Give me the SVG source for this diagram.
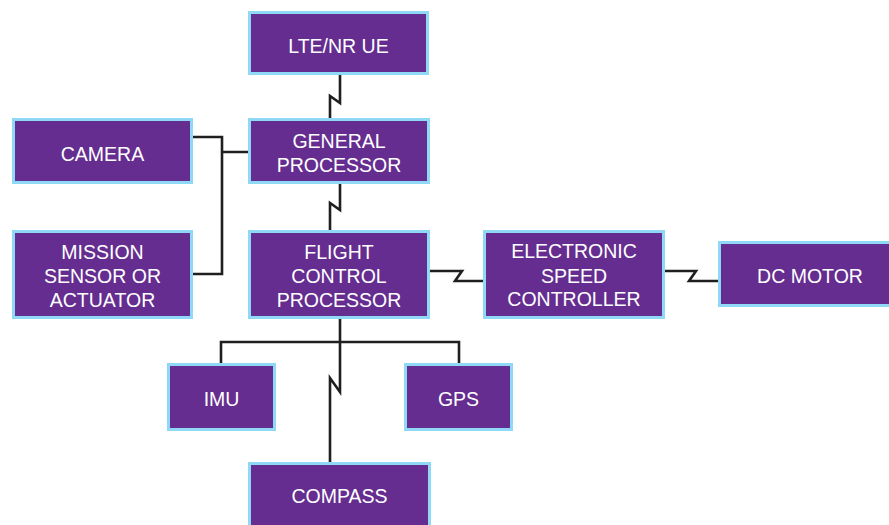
<svg xmlns="http://www.w3.org/2000/svg" width="889" height="525" viewBox="0 0 889 525">
<style>
.box{fill:#652D90;stroke:#8FD9F6;stroke-width:3}
.t{fill:#ffffff;font-family:"Liberation Sans",Arial,sans-serif;font-size:19.5px;text-anchor:middle}
.c{fill:none;stroke:#1f1f1f;stroke-width:2.6;stroke-linejoin:miter}
</style>
<rect width="889" height="525" fill="#ffffff"/>
<g id="connectors">
<path class="c" d="M340,75 V103 L330,96 V118"/>
<path class="c" d="M340,184 V210 L330,203 V230"/>
<path class="c" d="M193,137 H222 V274 H193 M222,152 H248"/>
<path class="c" d="M430,271 H462 L455,281 H483"/>
<path class="c" d="M665,271 H696 L689,281 H718"/>
<path class="c" d="M340,319 V392 L330,378 V462"/>
<path class="c" d="M221,363 V342 H459 V363"/>
</g>
<g id="lte">
<rect class="box" x="249.5" y="12.5" width="178" height="61"/>
<text class="t" x="338.5" y="53">LTE/NR UE</text>
</g>
<g id="general">
<rect class="box" x="249.5" y="119.5" width="179" height="63"/>
<text class="t" x="339" y="148">GENERAL</text>
<text class="t" x="339" y="172">PROCESSOR</text>
</g>
<g id="camera">
<rect class="box" x="13.5" y="119.5" width="178" height="63"/>
<text class="t" x="102.5" y="161">CAMERA</text>
</g>
<g id="mission">
<rect class="box" x="13.5" y="231.5" width="178" height="86"/>
<text class="t" x="102.5" y="259">MISSION</text>
<text class="t" x="102.5" y="283">SENSOR OR</text>
<text class="t" x="102.5" y="307">ACTUATOR</text>
</g>
<g id="fcp">
<rect class="box" x="249.5" y="231.5" width="179" height="86"/>
<text class="t" x="339" y="259">FLIGHT</text>
<text class="t" x="339" y="283">CONTROL</text>
<text class="t" x="339" y="307">PROCESSOR</text>
</g>
<g id="esc">
<rect class="box" x="484.5" y="231.5" width="179" height="86"/>
<text class="t" x="574" y="258">ELECTRONIC</text>
<text class="t" x="574" y="283">SPEED</text>
<text class="t" x="574" y="306">CONTROLLER</text>
</g>
<g id="dcmotor">
<rect class="box" x="719.5" y="242.5" width="180" height="63"/>
<text class="t" x="810" y="283">DC MOTOR</text>
</g>
<g id="imu">
<rect class="box" x="168.5" y="364.5" width="106" height="65"/>
<text class="t" x="221.5" y="406">IMU</text>
</g>
<g id="gps">
<rect class="box" x="405.5" y="364.5" width="106" height="65"/>
<text class="t" x="458.5" y="406">GPS</text>
</g>
<g id="compass">
<rect class="box" x="249.5" y="463.5" width="180" height="80"/>
<text class="t" x="339.5" y="503">COMPASS</text>
</g>
</svg>
